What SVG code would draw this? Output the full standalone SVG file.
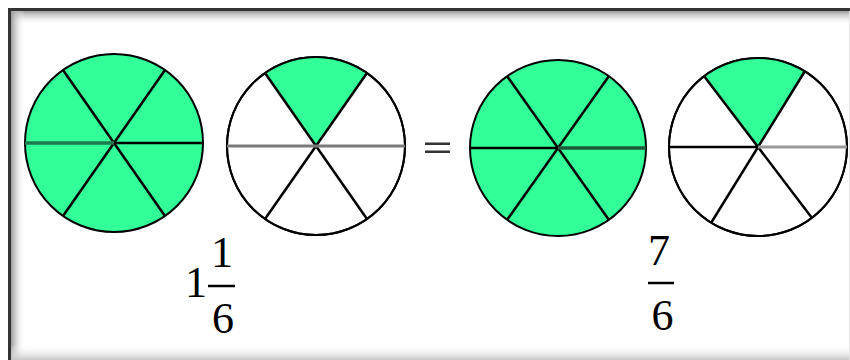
<svg xmlns="http://www.w3.org/2000/svg" width="850" height="360" viewBox="0 0 850 360">
<defs>
<linearGradient id="gTop" x1="0" y1="0" x2="0" y2="1"><stop offset="0" stop-color="#9a9a9a"/><stop offset="1" stop-color="#fff" stop-opacity="0"/></linearGradient>
<linearGradient id="gLeft" x1="0" y1="0" x2="1" y2="0"><stop offset="0" stop-color="#9a9a9a"/><stop offset="1" stop-color="#fff" stop-opacity="0"/></linearGradient>
<linearGradient id="gBot" x1="0" y1="1" x2="0" y2="0"><stop offset="0" stop-color="#c8c8c8"/><stop offset="1" stop-color="#fff" stop-opacity="0"/></linearGradient>
</defs>
<style>
.rim{stroke:#000;stroke-width:2}
.full{fill:#33ff99}
.empty{fill:#fff}
.sec{fill:#33ff99}
.sp{stroke:#000;stroke-width:2.5}
.num{font-family:"Liberation Serif","Times New Roman",serif;font-size:44px;fill:#000;text-anchor:middle}
.bar{stroke:#000;stroke-width:2.5}
</style>
<rect width="850" height="360" fill="#fff"/>
<g id="frame">
<rect x="11" y="11" width="839" height="14" fill="url(#gTop)"/>
<rect x="11" y="11" width="14" height="349" fill="url(#gLeft)"/>
<rect x="11" y="344" width="839" height="16" fill="url(#gBot)"/>
<line x1="849.5" y1="11" x2="849.5" y2="360" stroke="#e6e6e6" stroke-width="1"/>
<rect x="8" y="8" width="842" height="3" fill="#333"/>
<rect x="8" y="8" width="3" height="352" fill="#333"/>
</g>
<g id="pie1" transform="translate(114,143)">
<circle r="89" class="full rim"/>
<line class="sp" x1="-51" y1="-73" x2="51" y2="73"/>
<line class="sp" x1="51" y1="-73" x2="-51" y2="73"/>
<line x1="-89" y1="0" x2="0" y2="0" stroke="#1d7a4e" stroke-width="3.5"/>
<line x1="0" y1="0" x2="89" y2="0" stroke="#000" stroke-width="2.5"/>
</g>
<g id="pie2" transform="translate(316,146)">
<circle r="89" class="empty rim"/>
<path class="sec" d="M0,0 L-51,-73 A89,89 0 0,1 51,-73 Z"/>
<circle r="89" fill="none" class="rim"/>
<line class="sp" x1="-51" y1="-73" x2="51" y2="73"/>
<line class="sp" x1="51" y1="-73" x2="-51" y2="73"/>
<line x1="-89" y1="0" x2="89" y2="0" stroke="#7a7a7a" stroke-width="3"/>
</g>
<g id="equals">
<rect x="425" y="142.5" width="25" height="2.5" fill="#333"/>
<rect x="425" y="150.5" width="25" height="2.5" fill="#333"/>
</g>
<g id="pie3" transform="translate(558,148)">
<circle r="88" class="full rim"/>
<line class="sp" x1="-51" y1="-72" x2="51" y2="72"/>
<line class="sp" x1="51" y1="-72" x2="-51" y2="72"/>
<line x1="-88" y1="0" x2="0" y2="0" stroke="#000" stroke-width="2.5"/>
<line x1="0" y1="0" x2="88" y2="0" stroke="#1d5a3a" stroke-width="3.5"/>
</g>
<g id="pie4" transform="translate(758,147)">
<circle r="89" class="empty rim"/>
<path class="sec" d="M0,0 L-54,-71 A89,89 0 0,1 47,-76 Z"/>
<circle r="89" fill="none" class="rim"/>
<line class="sp" x1="-54" y1="-71" x2="54" y2="71"/>
<line class="sp" x1="47" y1="-76" x2="-47" y2="76"/>
<line x1="-89" y1="0" x2="0" y2="0" stroke="#000" stroke-width="2.5"/>
<line x1="0" y1="0" x2="89" y2="0" stroke="#999" stroke-width="3"/>
</g>
<g id="label-mixed">
<text class="num" x="196" y="297">1</text>
<text class="num" x="222" y="267">1</text>
<line class="bar" x1="208" y1="286" x2="235" y2="286"/>
<text class="num" x="223" y="333">6</text>
</g>
<g id="label-improper">
<text class="num" x="659" y="265">7</text>
<line class="bar" x1="648" y1="283" x2="674" y2="283"/>
<text class="num" x="662.5" y="330">6</text>
</g>
</svg>
